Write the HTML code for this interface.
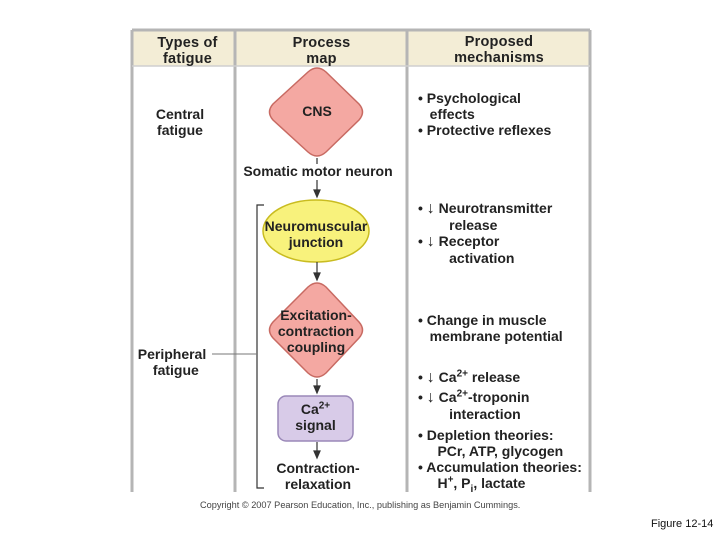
<!DOCTYPE html>
<html><head><style>
body{margin:0;width:720px;height:540px;background:#fff;position:relative;font-family:"Liberation Sans",Arial,sans-serif;overflow:hidden}
.t{position:absolute;font-weight:bold;font-size:14px;color:#222;line-height:16px;white-space:nowrap}
.c{text-align:center}
.h{font-size:14.5px;letter-spacing:0.2px;line-height:16px}
</style></head><body>
<svg width="720" height="540" style="position:absolute;left:0;top:0">
<rect x="132" y="31" width="458" height="35" fill="#f3edd6"/>
<g stroke="#b5b5b5" stroke-width="3" fill="none">
<line x1="132" y1="30" x2="590" y2="30"/>
<line x1="132" y1="30" x2="132" y2="492"/>
<line x1="590" y1="30" x2="590" y2="492"/>
<line x1="235" y1="30" x2="235" y2="492"/>
<line x1="407" y1="30" x2="407" y2="492"/>
</g>
<line x1="132" y1="66" x2="590" y2="66" stroke="#cfcfcf" stroke-width="1.5"/>
<path d="M308 72 Q317 64 326 72 L359 104 Q366 112 359 120 L326 152 Q317 160 308 152 L273 120 Q266 112 273 104 Z" fill="#f4a8a2" stroke="#c86a62" stroke-width="1.5"/>
<ellipse cx="316" cy="231" rx="53" ry="31" fill="#f8f27c" stroke="#c9bc20" stroke-width="1.5"/>
<path d="M308 287 Q317 279 326 287 L359 322 Q366 330 359 338 L326 373 Q317 381 308 373 L273 338 Q266 330 273 322 Z" fill="#f4a8a2" stroke="#c86a62" stroke-width="1.5"/>
<rect x="278" y="396" width="75" height="45" rx="8" fill="#d8cbe8" stroke="#9a88b8" stroke-width="1.5"/>
<g stroke="#333" stroke-width="1.2" fill="#333">
<line x1="317" y1="158" x2="317" y2="164"/>
<line x1="317" y1="180" x2="317" y2="192"/><path d="M314 190 L320 190 L317 197 Z"/>
<line x1="317" y1="262" x2="317" y2="274"/><path d="M314 273 L320 273 L317 280 Z"/>
<line x1="317" y1="379" x2="317" y2="387"/><path d="M314 386 L320 386 L317 393 Z"/>
<line x1="317" y1="442" x2="317" y2="452"/><path d="M314 451 L320 451 L317 458 Z"/>
</g>
<g stroke="#333" stroke-width="1.2" fill="none">
<path d="M264 205 L257 205 L257 488 L264 488"/>
</g>
<line x1="212" y1="354" x2="257" y2="354" stroke="#777" stroke-width="1"/>
</svg>
<div class="t c h" style="left:140px;top:35px;width:95px">Types of<br>fatigue</div>
<div class="t c h" style="left:236px;top:35px;width:171px">Process<br>map</div>
<div class="t c h" style="left:408px;top:34px;width:182px">Proposed<br>mechanisms</div>
<div class="t c" style="left:140px;top:106px;width:80px">Central<br>fatigue</div>
<div class="t c" style="left:280px;top:103px;width:74px">CNS</div>
<div class="t c" style="left:236px;top:163px;width:164px">Somatic motor neuron</div>
<div class="t c" style="left:258px;top:218px;width:116px">Neuromuscular<br>junction</div>
<div class="t c" style="left:258px;top:307px;width:116px">Excitation-<br>contraction<br>coupling</div>
<div class="t c" style="left:278px;top:401px;width:75px">Ca<sup style="font-size:10px;line-height:0">2+</sup><br>signal</div>
<div class="t c" style="left:258px;top:460px;width:120px">Contraction-<br>relaxation</div>
<div class="t c" style="left:130px;top:346px;width:84px">Peripheral<br>&nbsp;&nbsp;fatigue</div>
<div class="t" style="left:418px;top:90px">• Psychological<br>&nbsp;&nbsp; effects<br>• Protective reflexes</div>
<div class="t" style="left:418px;top:200px">• <span style="font-size:16px">↓</span> Neurotransmitter<br>&nbsp;&nbsp;&nbsp;&nbsp;&nbsp;&nbsp;&nbsp; release<br>• <span style="font-size:16px">↓</span> Receptor<br>&nbsp;&nbsp;&nbsp;&nbsp;&nbsp;&nbsp;&nbsp; activation</div>
<div class="t" style="left:418px;top:312px">• Change in muscle<br>&nbsp;&nbsp; membrane potential</div>
<div class="t" style="left:418px;top:369px">• <span style="font-size:16px">↓</span> Ca<sup style="font-size:10px;line-height:0">2+</sup> release</div>
<div class="t" style="left:418px;top:389px">• <span style="font-size:16px">↓</span> Ca<sup style="font-size:10px;line-height:0">2+</sup>-troponin<br>&nbsp;&nbsp;&nbsp;&nbsp;&nbsp;&nbsp;&nbsp; interaction</div>
<div class="t" style="left:418px;top:427px">• Depletion theories:<br>&nbsp;&nbsp;&nbsp;&nbsp; PCr, ATP, glycogen<br>• Accumulation theories:<br>&nbsp;&nbsp;&nbsp;&nbsp; H<sup style="font-size:10px;line-height:0">+</sup>, P<sub style="font-size:10px;line-height:0">i</sub>, lactate</div>
<div style="position:absolute;left:200px;top:500px;font-size:9.2px;color:#444;white-space:nowrap">Copyright © 2007 Pearson Education, Inc., publishing as Benjamin Cummings.</div>
<div style="position:absolute;left:651px;top:518px;font-size:11px;color:#111;white-space:nowrap">Figure 12-14</div>
</body></html>
